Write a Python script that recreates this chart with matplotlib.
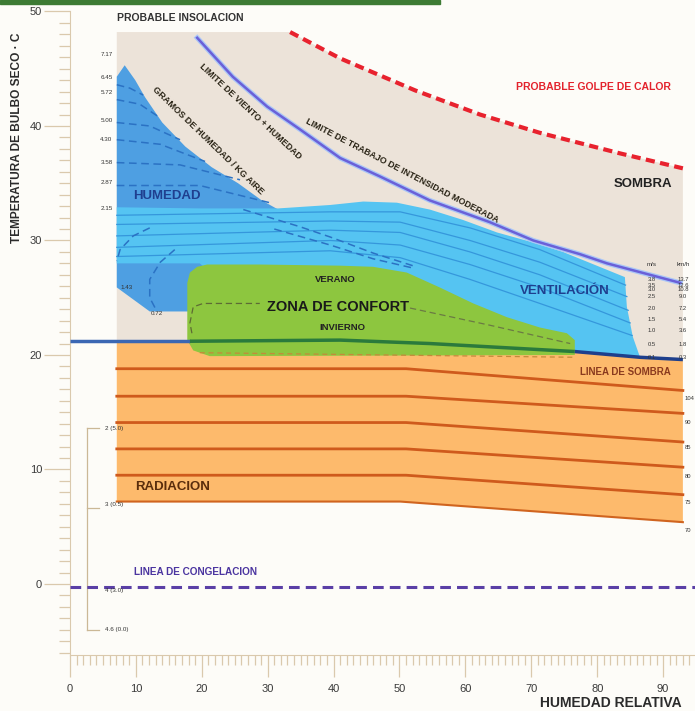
import matplotlib
matplotlib.use('Agg')
import matplotlib.pyplot as plt
from matplotlib.patches import Polygon, Rectangle
from matplotlib.ticker import FixedLocator

plt.rcParams['font.family'] = ['Liberation Sans', 'DejaVu Sans']

# valores: x = humedad relativa (%), t = temperatura (C)
calor_x = [33.4, 41.0, 52.4, 62.2, 71.3, 83.5, 93.0]
calor_t = [48.2, 45.9, 43.1, 41.0, 39.4, 37.6, 36.3]

viento_x = [19.3, 24.7, 29.9, 34.9, 41.0, 47.0, 54.6, 63.7, 70.3, 77.4, 81.5, 92.6]
viento_t = [47.7, 44.3, 41.7, 39.7, 37.2, 35.6, 33.5, 31.6, 30.0, 28.8, 28.0, 26.3]

hum_x = [7.1, 8.3, 9.9, 11.4, 14.0, 17.5, 21.5, 25.5, 29.1, 31.6, 33.4, 28.8, 19.7, 12.1, 7.1]
hum_t = [44.3, 45.3, 44.0, 42.5, 40.3, 38.2, 36.4, 35.0, 33.5, 32.7, 32.2, 27.4, 23.8, 23.8, 25.9]

vent_x = [7.1, 19.7, 31.6, 39.5, 44.5, 49.6, 54.6, 59.6, 64.8, 69.8, 74.8, 84.2, 84.5, 85.4, 86.5,
          76.6, 54.6, 41.0, 30.0, 19.7, 7.1]
vent_t = [32.9, 32.8, 32.8, 33.1, 33.4, 33.3, 32.7, 31.8, 30.7, 29.9, 29.0, 26.8, 24.2, 21.6, 19.8,
          20.3, 21.0, 21.3, 23.0, 28.0, 28.0]

confort_x = [17.8, 18.2, 19.3, 20.8, 28.8, 41.0, 46.0, 51.1, 56.1, 61.2, 66.3, 71.3, 75.4, 76.6, 76.6, 21.2, 18.7, 17.8]
confort_t = [26.3, 27.2, 27.7, 27.9, 27.9, 27.8, 27.7, 27.2, 25.9, 24.5, 23.3, 22.4, 21.9, 21.3, 20.0, 19.9, 20.4, 21.3]

sombra_x = [0, 7.1, 18.2, 41.0, 54.6, 76.6, 86.5, 93.0]
sombra_t = [21.2, 21.2, 21.2, 21.3, 21.0, 20.3, 19.8, 19.6]

rad_bottom_x = [93.0, 50.1, 7.1]
rad_bottom_t = [5.4, 7.2, 7.2]
rad_line_x = [7.1, 51.0, 93.0]
rad_left_t = [18.8, 16.4, 14.1, 11.8, 9.5]
rad_right_t = [16.9, 14.9, 12.4, 10.2, 7.8]

# lineas de ventilacion
vlin_x = [7.1, 39.5, 50.1, 60.7, 71.3]
vlin_t = [[32.2, 32.5, 32.5, 31.1, 29.2],
          [31.4, 31.7, 31.6, 30.0, 28.1],
          [30.4, 30.9, 30.7, 29.0, 27.0],
          [29.4, 30.0, 29.6, 27.9, 25.9],
          [28.6, 29.1, 28.5, 26.6, 24.5]]
vlin_end_x = [84.3, 84.5, 84.7, 85.0, 85.3]
vlin_end_t = [26.1, 25.1, 23.9, 22.8, 21.7]

# lineas de gramos de humedad (trazos)
gram_lines = [([7.1, 9.1, 11.1], [43.6, 43.3, 42.7]),
              ([7.1, 10.6, 13.7], [42.3, 41.9, 40.7]),
              ([7.1, 12.1, 16.7], [40.3, 40.0, 38.8]),
              ([7.1, 13.7, 20.5], [38.8, 38.4, 36.9]),
              ([7.1, 16.7, 25.8], [36.8, 36.6, 35.3]),
              ([7.1, 19.7, 30.3], [34.8, 34.8, 33.3]),
              ([26.3, 34.9, 39.5, 46.0, 52.0], [32.7, 31.2, 30.3, 28.9, 27.8]),
              ([31.0, 39.5, 46.0, 52.0], [31.0, 29.6, 28.4, 27.6]),
              ([12.1, 9.6, 7.6, 7.1], [31.1, 30.4, 29.2, 28.2]),
              ([15.9, 13.7, 12.1, 12.1, 13.2], [29.2, 28.1, 26.6, 25.0, 23.8])]
gram_labels = ['7.17', '6.45', '5.72', '5.00', '4.30', '3.58', '2.87', '2.15']
gram_label_t = [46.2, 44.2, 42.9, 40.5, 38.8, 36.8, 35.1, 32.8]

conf_a_x = [18.5, 18.2, 18.7, 20.2, 28.8]
conf_a_t = [21.9, 22.8, 24.2, 24.5, 24.5]
conf_b_x = [51.6, 63.7, 75.9]
conf_b_t = [24.1, 22.6, 21.0]

congel_t = -0.26

viento_ms = ['3.8', '3.5', '3.0', '2.5', '2.0', '1.5', '1.0', '0.5', '0.1']
viento_kmh = ['13.7', '12.6', '10.8', '9.0', '7.2', '5.4', '3.6', '1.8', '0.3']
viento_row_t = [26.6, 26.1, 25.7, 25.1, 24.1, 23.1, 22.1, 20.9, 19.8]

rad_labels = ['104', '90', '85', '80', '75', '70']
rad_label_t = [16.2, 14.1, 11.9, 9.4, 7.1, 4.7]

brk_t = [13.6, 6.6, -4.0]
brk_labels = ['2 (5.0)', '3 (0.5)', '4 (3.0)', '4.6 (0.0)']
brk_label_t = [13.6, 6.9, -0.6, -4.0]

bg = '#fdfcf8'
fig = plt.figure(figsize=(6.95, 7.11), dpi=100, facecolor=bg)
ax = fig.add_axes([0, 0, 1, 1], facecolor=bg)
ax.set_xlim(-10.62, 94.84)
ax.set_ylim(-11.09, 51.0)

fig.patches.append(Rectangle((0, 1 - 4 / 711), 440 / 695, 4 / 711,
                             transform=fig.transFigure, color='#3d7b34'))

# zonas
ax.add_patch(Polygon(list(zip([7.1] + calor_x + [93.0, 7.1], [48.2] + calor_t + [19.6, 21.2])),
                     closed=True, fc='#ece3d9', ec='none', zorder=1))
ax.add_patch(Polygon(list(zip(hum_x, hum_t)), closed=True, fc='#4e9fe2', ec='none', zorder=2))
ax.add_patch(Polygon(list(zip(vent_x, vent_t)), closed=True, fc='#55c4f2', ec='none', zorder=3))
ax.add_patch(Polygon(list(zip(sombra_x[1:] + rad_bottom_x, sombra_t[1:] + rad_bottom_t)),
                     closed=True, fc='#fdba6c', ec='none', zorder=2))
ax.add_patch(Polygon(list(zip(confort_x, confort_t)), closed=True, fc='#8dc63f', ec='none', zorder=5))

for lt, rt in zip(rad_left_t, rad_right_t):
    ax.plot(rad_line_x, [lt, lt, rt], color='#cf5a1c', lw=2, zorder=4)
ax.plot(rad_bottom_x, rad_bottom_t, color='#d0641f', lw=1.5, zorder=4)

for t, ex, et in zip(vlin_t, vlin_end_x, vlin_end_t):
    ax.plot(vlin_x + [ex], t + [et], color='#3597dc', lw=0.9, zorder=4)
for gx, gt in gram_lines:
    ax.plot(gx, gt, color='#2b72c4', lw=1.1, ls=(0, (5, 3)), zorder=4)

ax.plot(conf_a_x, conf_a_t, color='#5d6b34', lw=0.9, ls=(0, (5, 3)), zorder=6)
ax.plot(conf_b_x, conf_b_t, color='#6b7a44', lw=0.9, ls=(0, (5, 3)), zorder=6)
ax.plot([19.7, 76.6], [20.2, 19.8], color='#c48a3a', lw=0.9, ls=(0, (4, 3)), zorder=6)

# linea de sombra
ax.plot(sombra_x[:3], sombra_t[:3], color='#3b67b3', lw=2.5, zorder=7, solid_capstyle='butt')
ax.plot(sombra_x[2:6], sombra_t[2:6], color='#2a7a3c', lw=2.5, zorder=7, solid_capstyle='butt')
ax.plot(sombra_x[5:], sombra_t[5:], color='#1e3f8c', lw=2.5, zorder=7, solid_capstyle='butt')

ax.plot(viento_x, viento_t, color='#a9c6f7', lw=3.6, zorder=8)
ax.plot(viento_x, viento_t, color='#6a60d8', lw=1.8, zorder=8)
ax.plot(calor_x, calor_t, color='#e8222e', lw=3, ls=(0, (2.2, 1.3)), zorder=8)
ax.plot([0, 94.84], [congel_t, congel_t], color='#5a3fa6', lw=2.2, ls=(0, (3.5, 2)), zorder=8)

# ejes
for s in ['top', 'right']:
    ax.spines[s].set_visible(False)
ax.spines['left'].set_position(('data', 0))
ax.spines['bottom'].set_position(('data', -6.2))
ax.spines['left'].set_bounds(-6.2, 50)
ax.spines['bottom'].set_bounds(0, 94.84)
ax.spines['left'].set_color('#dac9ad')
ax.spines['bottom'].set_color('#dac9ad')
ax.xaxis.set_major_locator(FixedLocator(list(range(0, 91, 10))))
ax.xaxis.set_minor_locator(FixedLocator(list(range(0, 95))))
ax.yaxis.set_major_locator(FixedLocator(list(range(0, 51, 10))))
ax.yaxis.set_minor_locator(FixedLocator(list(range(-6, 51))))
ax.tick_params(axis='y', which='major', length=19, width=0.9, color='#dac9ad', pad=1,
               labelsize=8, labelcolor='#3a3a3a')
ax.tick_params(axis='y', which='minor', length=8, width=0.9, color='#dac9ad')
ax.tick_params(axis='x', which='major', length=16, width=0.9, color='#dac9ad', pad=5,
               labelsize=8, labelcolor='#3a3a3a')
ax.tick_params(axis='x', which='minor', length=7, width=0.9, color='#dac9ad')

# textos
ax.text(7.1, 49.4, 'PROBABLE INSOLACION', fontsize=7.5, fontweight='bold', color='#333333',
        va='center', zorder=9)
ax.text(79.4, 43.4, 'PROBABLE GOLPE DE CALOR', fontsize=7.5, fontweight='bold',
        color='#e3222c', ha='center', va='center', zorder=9)
ax.text(86.9, 34.9, 'SOMBRA', fontsize=9.5, fontweight='bold', color='#222222',
        ha='center', va='center', zorder=9)
ax.text(20.9, 38.7, 'GRAMOS DE HUMEDAD / KG AIRE', fontsize=6.6, fontweight='bold',
        color='#2a2416', rotation=-44, rotation_mode='anchor', ha='center', va='center', zorder=9)
ax.text(27.3, 41.3, 'LIMITE DE VIENTO + HUMEDAD', fontsize=6.4, fontweight='bold',
        color='#2a2416', rotation=-43, rotation_mode='anchor', ha='center', va='center', zorder=9)
ax.text(50.4, 36.1, 'LIMITE DE TRABAJO DE INTENSIDAD MODERADA', fontsize=6.4,
        fontweight='bold', color='#2a2416', rotation=-27.5, rotation_mode='anchor',
        ha='center', va='center', zorder=9)
ax.text(14.7, 33.9, 'HUMEDAD', fontsize=9.5, fontweight='bold', color='#1f3f8f',
        ha='center', va='center', zorder=9)
ax.text(75.1, 25.6, 'VENTILACIÓN', fontsize=9.5, fontweight='bold', color='#1f3f8f',
        ha='center', va='center', zorder=9)
ax.text(40.2, 26.6, 'VERANO', fontsize=6.8, fontweight='bold', color='#222222',
        ha='center', va='center', zorder=9)
ax.text(40.7, 24.2, 'ZONA DE CONFORT', fontsize=10.5, fontweight='bold', color='#1a1a1a',
        ha='center', va='center', zorder=9)
ax.text(41.3, 22.4, 'INVIERNO', fontsize=6.8, fontweight='bold', color='#222222',
        ha='center', va='center', zorder=9)
ax.text(84.2, 18.5, 'LINEA DE SOMBRA', fontsize=7, color='#8a3a1e', fontweight='bold',
        ha='center', va='center', zorder=9)
ax.text(15.5, 8.5, 'RADIACION', fontsize=9.5, fontweight='bold', color='#5a2d0c',
        ha='center', va='center', zorder=9)
ax.text(19.0, 1.05, 'LINEA DE CONGELACION', fontsize=7.2, fontweight='bold', color='#4b35a0',
        ha='center', va='center', zorder=9)
ax.text(-8.0, 39.0, 'TEMPERATURA DE BULBO SECO · C', fontsize=8.6, fontweight='bold',
        color='#2b2b2b', rotation=90, ha='center', va='center', zorder=9)
ax.text(71.3, -10.4, 'HUMEDAD RELATIVA', fontsize=10, fontweight='bold', color='#2b2b2b',
        va='center', zorder=9)

for lab, t in zip(gram_labels, gram_label_t):
    ax.text(4.6, t, lab, fontsize=4.5, color='#333333', va='center', zorder=9)
ax.text(7.6, 25.9, '1.43', fontsize=4.5, color='#333333', va='center', zorder=9)
ax.text(12.3, 23.6, '0.72', fontsize=4.5, color='#333333', va='center', zorder=9)

ax.text(88.3, 27.9, 'm/s', fontsize=4.5, color='#333333', ha='center', va='center', zorder=9)
ax.text(93.0, 27.9, 'km/h', fontsize=4.5, color='#333333', ha='center', va='center', zorder=9)
for ms, kmh, t in zip(viento_ms, viento_kmh, viento_row_t):
    ax.text(88.3, t, ms, fontsize=4.2, color='#333333', ha='center', va='center', zorder=9)
    ax.text(93.0, t, kmh, fontsize=4.2, color='#333333', ha='center', va='center', zorder=9)

for lab, t in zip(rad_labels, rad_label_t):
    ax.text(93.3, t, lab, fontsize=4.2, color='#333333', va='center', zorder=9)

ax.plot([2.6, 2.6], [brk_t[0], brk_t[-1]], color='#cbb896', lw=0.9, zorder=3)
for t in brk_t:
    ax.plot([2.6, 4.4], [t, t], color='#cbb896', lw=0.9, zorder=3)
for lab, t in zip(brk_labels, brk_label_t):
    ax.text(5.3, t, lab, fontsize=4.5, color='#333333', va='center', zorder=9)

fig.savefig('out.png', dpi=100, facecolor=bg)
